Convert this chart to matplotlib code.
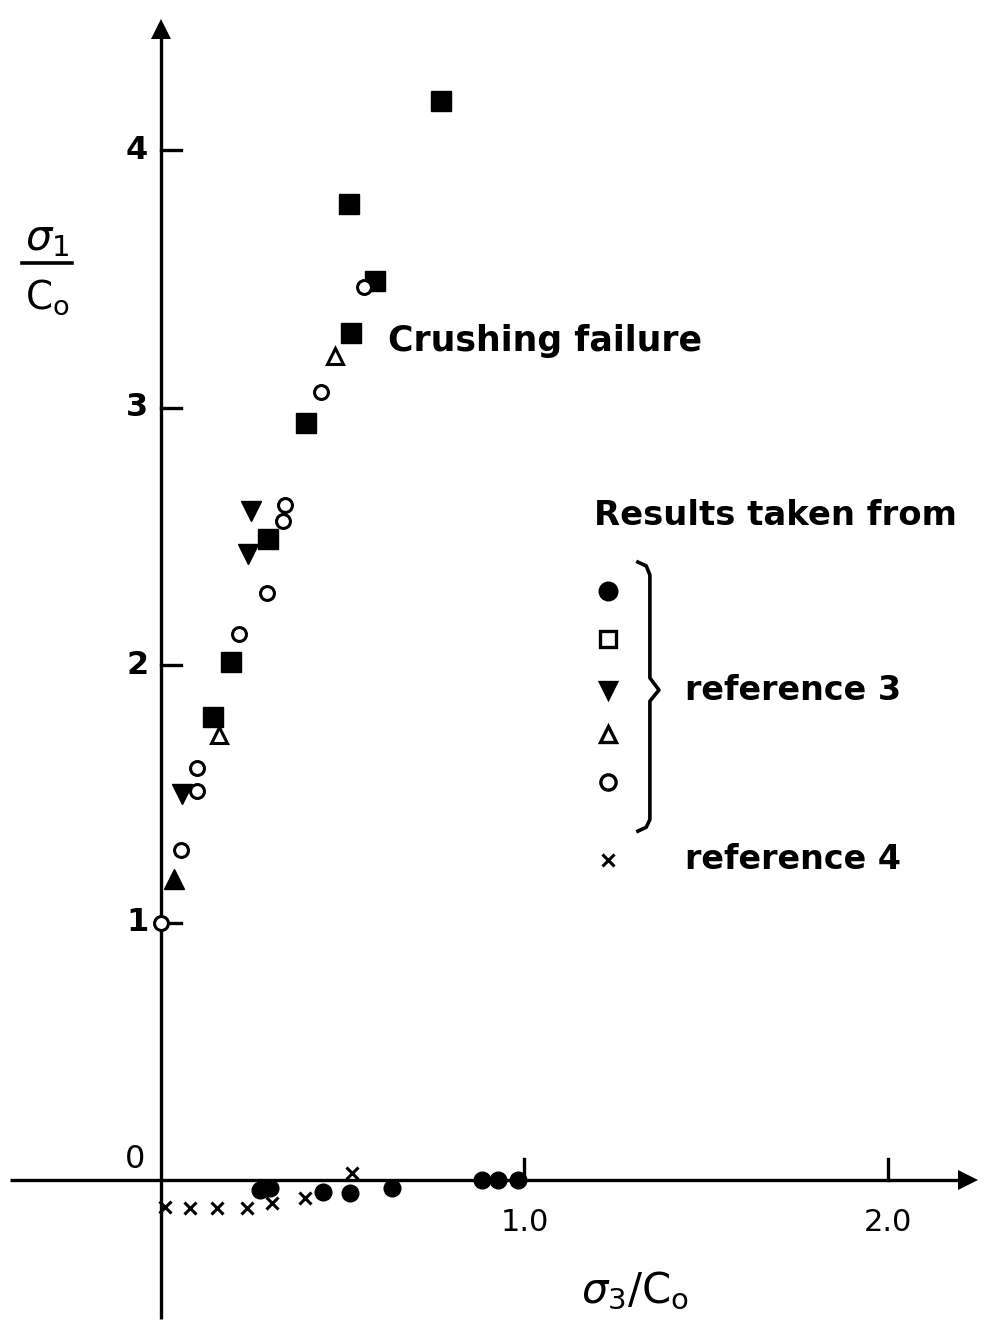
import matplotlib.pyplot as plt

# sigma3/C0, sigma1/C0
sq_x = [0.770, 0.517, 0.589, 0.523, 0.399, 0.294, 0.193, 0.143]
sq_y = [4.19, 3.79, 3.49, 3.29, 2.94, 2.49, 2.01, 1.80]

oc_x = [0.0, 0.055, 0.099, 0.099, 0.215, 0.292, 0.341, 0.336, 0.440, 0.558]
oc_y = [1.00, 1.28, 1.60, 1.51, 2.12, 2.28, 2.62, 2.56, 3.06, 3.47]

otri_x = [0.160, 0.479]
otri_y = [1.73, 3.20]

ftri_x = [0.036]
ftri_y = [1.17]

dtri_x = [0.058, 0.248, 0.239]
dtri_y = [1.50, 2.60, 2.43]

fc_x = [0.272, 0.300, 0.446, 0.520, 0.636, 0.883, 0.927, 0.982]
fc_y = [-0.04, -0.03, -0.047, -0.05, -0.03, 0.0, 0.0, 0.0]

cr_x = [0.011, 0.080, 0.154, 0.236, 0.305, 0.396, 0.525]
cr_y = [-0.105, -0.109, -0.109, -0.109, -0.089, -0.07, 0.027]

yticks = [1, 2, 3, 4]
xticks = [1.0, 2.0]
xticklabels = ["1.0", "2.0"]

legend_y = [2.287, 2.101, 1.903, 1.732, 1.546]
legend_m = ["o", "s", "v", "^", "o"]
legend_fill = [True, False, True, False, False]

plt.rcParams['font.family'] = ['DejaVu Sans']
fig = plt.figure(figsize=(9.89, 13.26), dpi=100)
ax = fig.add_axes([0, 0, 1, 1])
ax.set_xlim(-0.443, 2.278)
ax.set_ylim(-0.567, 4.583)
ax.axis('off')

k = 'black'
lw = 2.4
# axes with arrows
ax.plot([-0.415, 2.20], [0, 0], color=k, lw=lw, solid_capstyle='butt')
ax.plot([0, 0], [-0.54, 4.45], color=k, lw=lw, solid_capstyle='butt')
ax.plot([2.22], [0], marker='>', color=k, markersize=14, markeredgewidth=0)
ax.plot([0], [4.47], marker='^', color=k, markersize=14, markeredgewidth=0)

for t in yticks:
    ax.plot([0, 0.055], [t, t], color=k, lw=lw)
    ax.text(-0.035, t, str(t), ha='right', va='center', fontsize=23, fontweight='bold')
for t, lab in zip(xticks, xticklabels):
    ax.plot([t, t], [0, 0.08], color=k, lw=lw)
    ax.text(t, -0.165, lab, ha='center', va='center', fontsize=22)
ax.text(-0.072, 0.08, "0", ha='center', va='center', fontsize=23)

# axis labels
ax.text(-0.314, 3.66, r"$\sigma_\mathrm{1}$", ha='center', va='center', fontsize=30)
ax.plot([-0.382, -0.245], [3.56, 3.56], color=k, lw=2.6)
ax.text(-0.314, 3.43, r"$\mathrm{C}_\mathrm{o}$", ha='center', va='center', fontsize=28)
ax.text(1.304, -0.43, r"$\sigma_\mathrm{3}/\mathrm{C}_\mathrm{o}$", ha='center', va='center', fontsize=30)

# data
ax.plot(sq_x, sq_y, 's', color=k, markersize=14, linestyle='none')
ax.plot(oc_x, oc_y, 'o', mfc='white', mec=k, mew=2.2, markersize=10, linestyle='none')
ax.plot(otri_x, otri_y, '^', mfc='white', mec=k, mew=2.2, markersize=11, linestyle='none')
ax.plot(ftri_x, ftri_y, '^', color=k, markersize=14, linestyle='none')
ax.plot(dtri_x, dtri_y, 'v', color=k, markersize=14, linestyle='none')
ax.plot(fc_x, fc_y, 'o', color=k, markersize=12, linestyle='none')
ax.plot(cr_x, cr_y, 'x', color=k, markersize=8, mew=2.2, linestyle='none')

# annotations
ax.text(0.624, 3.26, "Crushing failure", ha='left', va='center', fontsize=25, fontweight='bold')
ax.text(1.191, 2.58, "Results taken from", ha='left', va='center', fontsize=24.4, fontweight='bold')
for yy, m, f in zip(legend_y, legend_m, legend_fill):
    ax.plot([1.230], [yy], m, mfc=k if f else 'white', mec=k, mew=2.4,
            markersize=12 if f else 11, linestyle='none')
ax.plot([1.230], [1.243], 'x', color=k, markersize=8, mew=2.2)
ax.text(1.442, 1.903, "reference 3", ha='left', va='center', fontsize=24, fontweight='bold')
ax.text(1.442, 1.243, "reference 4", ha='left', va='center', fontsize=24, fontweight='bold')

# brace
bx = [1.312, 1.335, 1.345, 1.345, 1.370, 1.345, 1.345, 1.335, 1.312]
by = [2.400, 2.385, 2.35, 1.95, 1.903, 1.86, 1.40, 1.37, 1.355]
ax.plot(bx, by, color=k, lw=2.6, solid_joinstyle='round')

fig.savefig("out.png", dpi=100)
